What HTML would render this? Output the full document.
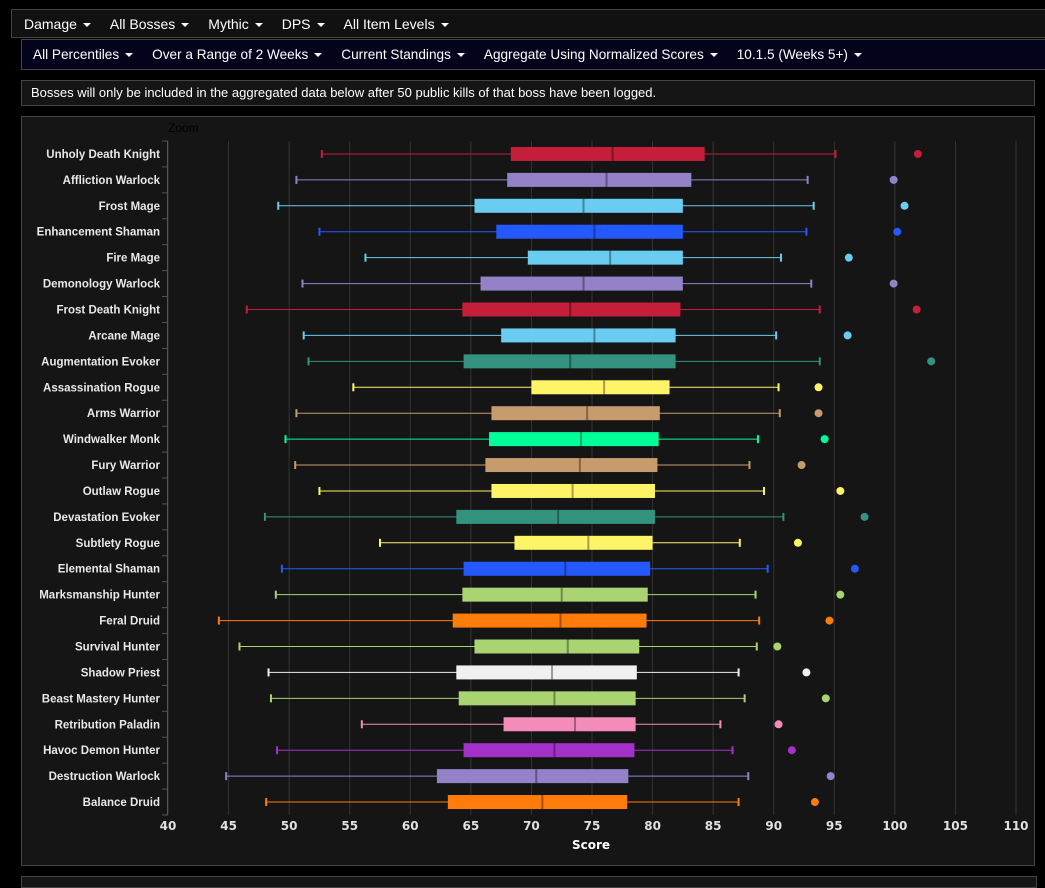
<!DOCTYPE html>
<html><head><meta charset="utf-8"><style>
body{margin:0;width:1045px;height:881px;background:#000;font-family:"Liberation Sans",sans-serif;overflow:hidden;position:relative}
.bar{position:absolute;display:flex;align-items:center;color:#fff;font-size:14px}
.bar span{margin-right:19px}
.bar span:after{content:"";display:inline-block;margin-left:6px;vertical-align:middle;border-left:4px solid transparent;border-right:4px solid transparent;border-top:4px solid #fff}
#bar1{left:11px;top:9px;width:1040px;height:29px;background:#111;border:1px solid #444;padding-left:12px;box-sizing:border-box}
#bar2{left:21px;top:39px;width:1030px;height:31px;background:#03031c;border:1px solid #444;padding-left:11px;box-sizing:border-box}
#bar2 span{margin-right:19px;font-size:13.6px}
#notice{position:absolute;left:21px;top:80px;width:1014px;height:26px;background:#151515;border:1px solid #444;box-sizing:border-box;color:#fff;font-size:13px;line-height:24px;padding-left:9px}
#panel{position:absolute;left:21px;top:116px;width:1014px;height:750px;background:#151515;border:1px solid #444;box-sizing:border-box}
#bottom{position:absolute;left:21px;top:876px;width:1014px;height:10px;background:#151515;border:1px solid #444}
</style></head><body>
<div id="bar1" class="bar">
<span>Damage</span><span>All Bosses</span><span>Mythic</span><span>DPS</span><span>All Item Levels</span></div>
<div id="bar2" class="bar">
<span>All Percentiles</span><span>Over a Range of 2 Weeks</span><span>Current Standings</span><span>Aggregate Using Normalized Scores</span><span>10.1.5 (Weeks 5+)</span></div>
<div id="notice">Bosses will only be included in the aggregated data below after 50 public kills of that boss have been logged.</div>
<div id="panel"></div>
<div id="bottom"></div>
<svg id="chart" width="1045" height="881" style="position:absolute;left:0;top:0"></svg>
<script>
const specs=["Unholy Death Knight","Affliction Warlock","Frost Mage","Enhancement Shaman","Fire Mage","Demonology Warlock","Frost Death Knight","Arcane Mage","Augmentation Evoker","Assassination Rogue","Arms Warrior","Windwalker Monk","Fury Warrior","Outlaw Rogue","Devastation Evoker","Subtlety Rogue","Elemental Shaman","Marksmanship Hunter","Feral Druid","Survival Hunter","Shadow Priest","Beast Mastery Hunter","Retribution Paladin","Havoc Demon Hunter","Destruction Warlock","Balance Druid"];
const mins=[52.7,50.6,49.1,52.5,56.3,51.1,46.5,51.2,51.6,55.3,50.6,49.7,50.5,52.5,48.0,57.5,49.4,48.9,44.2,45.9,48.3,48.5,56.0,49.0,44.8,48.1];
const q1s=[68.3,68.0,65.3,67.1,69.7,65.8,64.3,67.5,64.4,70.0,66.7,66.5,66.2,66.7,63.8,68.6,64.4,64.3,63.5,65.3,63.8,64.0,67.7,64.4,62.2,63.1];
const medians=[76.7,76.2,74.3,75.2,76.5,74.3,73.2,75.2,73.2,76.0,74.6,74.1,74.0,73.4,72.2,74.7,72.8,72.5,72.4,73.0,71.7,71.9,73.6,71.9,70.4,70.9];
const q3s=[84.3,83.2,82.5,82.5,82.5,82.5,82.3,81.9,81.9,81.4,80.6,80.5,80.4,80.2,80.2,80.0,79.8,79.6,79.5,78.9,78.7,78.6,78.6,78.5,78.0,77.9];
const maxs=[95.1,92.8,93.3,92.7,90.6,93.1,93.8,90.2,93.8,90.4,90.5,88.7,88.0,89.2,90.8,87.2,89.5,88.5,88.8,88.6,87.1,87.6,85.6,86.6,87.9,87.1];
const outliers=[101.9,99.9,100.8,100.2,96.2,99.9,101.8,96.1,103.0,93.7,93.7,94.2,92.3,95.5,97.5,92.0,96.7,95.5,94.6,90.3,92.7,94.3,90.4,91.5,94.7,93.4];
const colors=["#c41e3a","#9482c9","#69ccf0","#2459ff","#69ccf0","#9482c9","#c41e3a","#69ccf0","#33937f","#fff468","#c69b6d","#00ff98","#c69b6d","#fff468","#33937f","#fff468","#2459ff","#aad372","#ff7c0a","#aad372","#f0f0f0","#aad372","#f48cba","#a330c9","#9482c9","#ff7c0a"];
const ticks=[40,45,50,55,60,65,70,75,80,85,90,95,100,105,110];
const svg=document.getElementById('chart');const NS="http://www.w3.org/2000/svg";
const X0=168,X1=1016,VMIN=40,VMAX=110,Y0=141,Y1=815;
const xs=v=>X0+(v-VMIN)/(VMAX-VMIN)*(X1-X0);
const band=(Y1-Y0)/specs.length;
const yc=i=>Y0+band*(i+0.5);
function mk(t,a,p){const e=document.createElementNS(NS,t);for(const k in a)e.setAttribute(k,a[k]);(p||svg).appendChild(e);return e;}
const z=mk('text',{x:168,y:132,fill:'#000','font-size':12,'font-family':'Liberation Sans, sans-serif'});z.textContent='Zoom';


ticks.forEach(t=>{
 const g=mk('line',{x1:xs(t),x2:xs(t),y1:Y0,y2:Y1,stroke:'#333','stroke-width':1});
 
 
 const l=mk('text',{x:xs(t),y:830,fill:'#e0e0e0','font-size':12,'font-weight':'bold','text-anchor':'middle','font-family':'DejaVu Sans, sans-serif'});l.textContent=t;
 
 
});
const ax=mk('line',{x1:167.5,x2:167.5,y1:Y0,y2:Y1,stroke:'#555'});


for(let i=0;i<=specs.length;i++){const tk=mk('line',{x1:162,x2:168,y1:Y0+band*i,y2:Y0+band*i,stroke:'#555'});
 
 }
const xt=mk('text',{x:591,y:849,fill:'#fff','font-size':12,'font-weight':'bold','text-anchor':'middle','font-family':'DejaVu Sans, sans-serif'});xt.textContent='Score';


specs.forEach((s,i)=>{
 const y=yc(i),c=colors[i];
 const lb=mk('text',{x:160,y:y+4,fill:'#e8e8e8','font-size':11.5,'font-weight':'bold','text-anchor':'end','font-family':'Liberation Sans, sans-serif'});lb.textContent=s;
 
 
 const g=mk('g',{});
 
 
 mk('line',{x1:xs(mins[i]),x2:xs(maxs[i]),y1:y,y2:y,stroke:c,'stroke-width':1},g);
 mk('line',{x1:xs(mins[i]),x2:xs(mins[i]),y1:y-4,y2:y+4,stroke:c,'stroke-width':2},g);
 mk('line',{x1:xs(maxs[i]),x2:xs(maxs[i]),y1:y-4,y2:y+4,stroke:c,'stroke-width':2},g);
 mk('rect',{x:xs(q1s[i]),y:y-7,width:xs(q3s[i])-xs(q1s[i]),height:14,fill:c},g);
 mk('line',{x1:xs(medians[i]),x2:xs(medians[i]),y1:y-7,y2:y+7,stroke:'rgba(0,0,0,0.35)','stroke-width':2},g);
 const d=mk('circle',{cx:xs(outliers[i]),cy:y,r:4,fill:c});
 
 
});
</script>
</body></html>
